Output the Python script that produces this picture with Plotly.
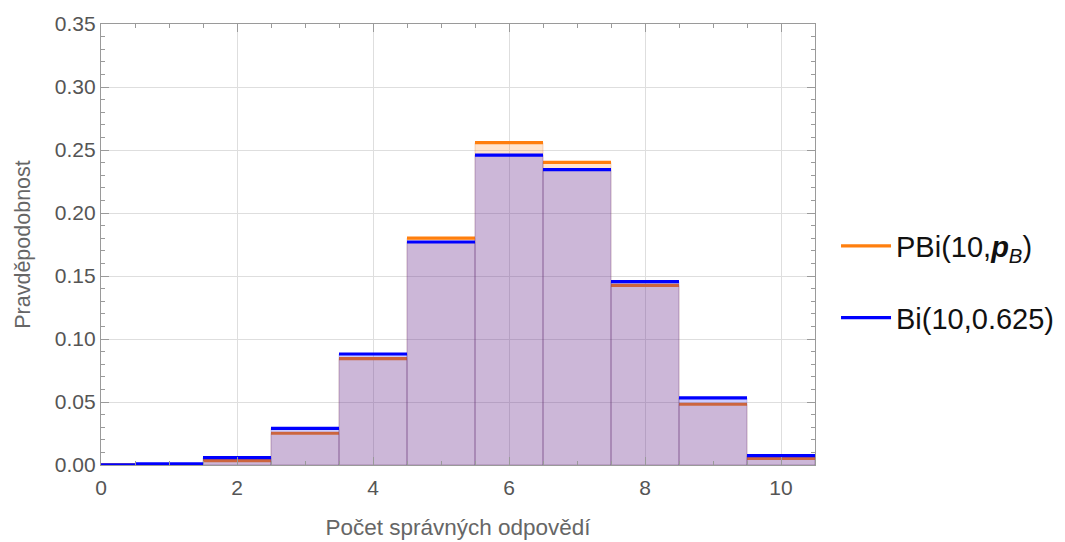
import plotly.graph_objects as go

# Data
k_values = [0, 1, 2, 3, 4, 5, 6, 7, 8, 9, 10]
pbi_values = [0.00005, 0.0004, 0.0034, 0.0252, 0.0845, 0.1800, 0.2558, 0.2402, 0.1425, 0.0482, 0.0053]
bi_values = [0.0001, 0.0009, 0.0058, 0.0291, 0.0881, 0.1770, 0.2460, 0.2344, 0.1456, 0.0532, 0.0074]

x_ticks = [0, 2, 4, 6, 8, 10]
y_ticks = [0.0, 0.05, 0.10, 0.15, 0.20, 0.25, 0.30, 0.35]

ORANGE = "rgb(255,127,14)"
BLUE = "rgb(0,0,255)"
FONT = "Liberation Sans, Arial, Helvetica, sans-serif"


def bar_polys(ks, vals):
    xs, ys = [], []
    for k, v in zip(ks, vals):
        xs += [k - 0.5, k - 0.5, k + 0.5, k + 0.5, k - 0.5, None]
        ys += [0, v, v, 0, 0, None]
    return xs, ys


def tops(ks, vals):
    xs, ys = [], []
    for k, v in zip(ks, vals):
        xs += [k - 0.5, k + 0.5, None]
        ys += [v, v, None]
    return xs, ys


fig = go.Figure()

ox, oy = bar_polys(k_values, pbi_values)
fig.add_trace(go.Scatter(x=ox, y=oy, mode="lines", fill="toself",
                         fillcolor="rgba(255,127,14,0.2)",
                         line=dict(color="rgba(200,100,40,0.3)", width=0.8),
                         showlegend=False, hoverinfo="skip", legendgroup="a"))
tx, ty = tops(k_values, pbi_values)
fig.add_trace(go.Scatter(x=tx, y=ty, mode="lines",
                         line=dict(color=ORANGE, width=3.2),
                         name="PBi(10,<b><i>p</i></b><sub><i>B</i></sub>)",
                         legendgroup="a"))

bx, by = bar_polys(k_values, bi_values)
fig.add_trace(go.Scatter(x=bx, y=by, mode="lines", fill="toself",
                         fillcolor="rgba(0,0,255,0.2)",
                         line=dict(color="rgba(60,40,160,0.25)", width=0.8),
                         showlegend=False, hoverinfo="skip", legendgroup="b"))
tx, ty = tops(k_values, bi_values)
fig.add_trace(go.Scatter(x=tx, y=ty, mode="lines",
                         line=dict(color=BLUE, width=3.2),
                         name="Bi(10,0.625)", legendgroup="b"))

axis_common = dict(
    showline=True, linecolor="#9a9a9a", linewidth=1.3, mirror="allticks",
    ticks="inside", tickcolor="#9a9a9a", tickwidth=1.3, ticklen=8,
    showgrid=True, gridcolor="#dedede", gridwidth=1.2, zeroline=False,
    automargin=False,
    tickfont=dict(family=FONT, size=21, color="#555555"),
)

fig.update_xaxes(range=[0, 10.5], tickvals=x_ticks, ticktext=[str(v) for v in x_ticks],
                 minor=dict(dtick=0.5, tick0=0, ticks="inside", ticklen=4,
                            tickcolor="#9a9a9a", showgrid=False),
                 ticklabelstandoff=4,
                 title=dict(text="Počet správných odpovědí", standoff=20,
                            font=dict(family=FONT, size=22.5, color="#666666")),
                 **axis_common)
fig.update_yaxes(range=[0, 0.35], tickvals=y_ticks, ticktext=[f"{v:.2f}" for v in y_ticks],
                 minor=dict(dtick=0.01, tick0=0, ticks="inside", ticklen=4,
                            tickcolor="#9a9a9a", showgrid=False),
                 title=dict(text="Pravděpodobnost", standoff=18,
                            font=dict(family=FONT, size=21.5, color="#666666")),
                 **axis_common)

fig.update_layout(
    width=1065, height=542,
    margin=dict(l=101, r=250, t=24, b=77),
    paper_bgcolor="white", plot_bgcolor="white",
    font=dict(family=FONT),
    legend=dict(xref="container", x=0.785, xanchor="left", y=0.415, yanchor="middle",
                font=dict(family=FONT, size=29, color="#111111"),
                itemwidth=50,
                tracegroupgap=31, bgcolor="rgba(0,0,0,0)"),
)

fig.write_html("out.html")
